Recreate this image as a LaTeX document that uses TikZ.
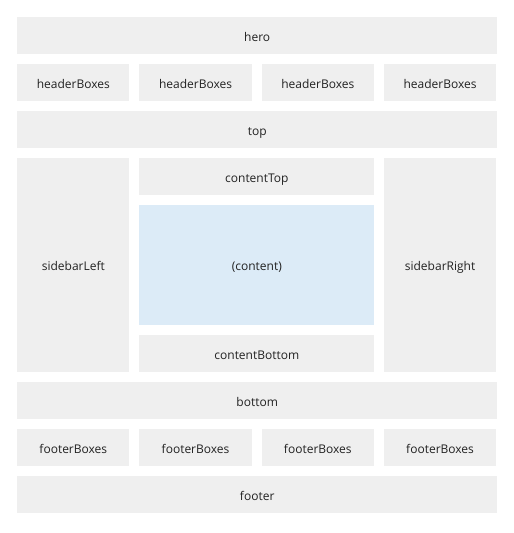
\documentclass[tikz,border=0pt]{standalone}
\usepackage{fontspec}
\setmainfont{Open Sans}
\begin{document}
\begin{tikzpicture}[x=1pt,y=-1pt]
    % Define colors
    \definecolor{panelgray}{RGB}{239,239,239}
    \definecolor{contentblue}{RGB}{220,235,247}
    \definecolor{labelgray}{RGB}{34,34,34}
    \tikzset{
        area/.style={fill=panelgray, draw=none, inner sep=0pt, anchor=north west,
            minimum height=36.7pt, text height=12pt, text depth=0.6pt,
            text=labelgray, font=\fontsize{12}{14}\selectfont},
        full/.style={area, minimum width=480pt},
        quarter/.style={area, minimum width=112.25pt}
    }
    \useasboundingbox (0,0) rectangle (514,533);

    % Draw the full width rows
    \node[full] (hero) at (17,17) {hero};
    \node[full] (top) at (17,111) {top};
    \node[full] (bottom) at (17,382) {bottom};
    \node[full] (footer) at (17,476) {footer};

    % Draw the box rows
    \foreach \i/\x in {1/17,2/139.25,3/261.5,4/383.75} {
        \node[quarter] (headerBoxes\i) at (\x,64) {headerBoxes};
        \node[quarter] (footerBoxes\i) at (\x,429) {footerBoxes};
    }

    % Draw the sidebars
    \node[quarter, minimum height=213.7pt] (sidebarLeft) at (17,158) {sidebarLeft};
    \node[quarter, minimum height=213.7pt] (sidebarRight) at (383.75,158) {sidebarRight};

    % Draw the content column
    \node[area, minimum width=234.75pt] (contentTop) at (139.25,158) {contentTop};
    \node[area, fill=contentblue, minimum width=234.75pt, minimum height=119.7pt] (content) at (139.25,205) {(content)};
    \node[area, minimum width=234.75pt] (contentBottom) at (139.25,335) {contentBottom};
\end{tikzpicture}
\end{document}
